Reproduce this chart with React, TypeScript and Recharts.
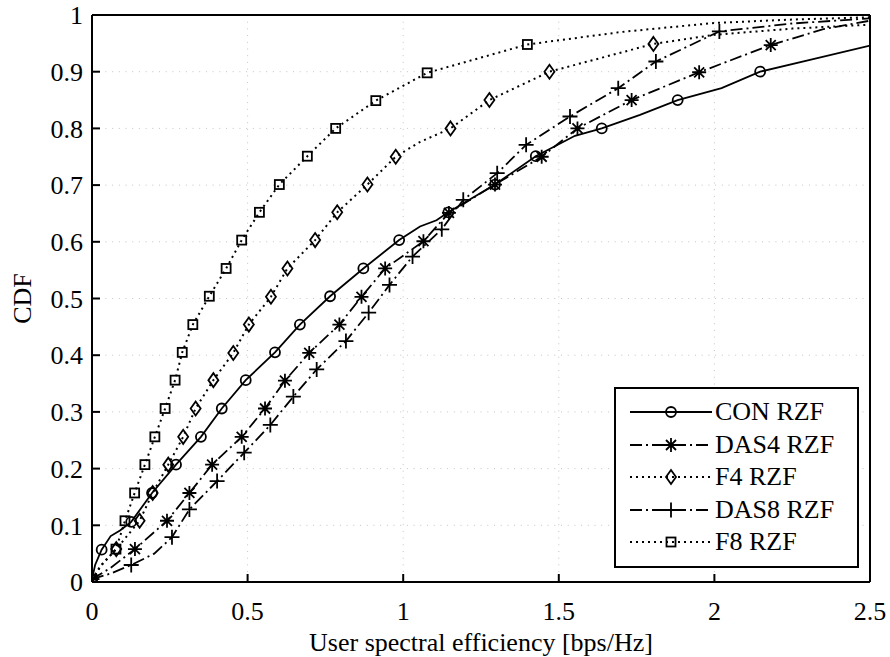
import React from 'react';
import { LineChart, Line, XAxis, YAxis, CartesianGrid, Legend } from 'recharts';

type P = { x: number; y: number; m?: number };

// CDF curves; m = 1 marks the points that carry a marker
const conData: P[] = [
  { x: 0, y: 0.005, m: 1 }, { x: 0.01, y: 0.03 }, { x: 0.031, y: 0.057, m: 1 },
  { x: 0.06, y: 0.081 }, { x: 0.09, y: 0.091 }, { x: 0.126, y: 0.106, m: 1 },
  { x: 0.193, y: 0.157, m: 1 }, { x: 0.27, y: 0.207, m: 1 }, { x: 0.35, y: 0.256, m: 1 },
  { x: 0.417, y: 0.306, m: 1 }, { x: 0.494, y: 0.356, m: 1 }, { x: 0.588, y: 0.405, m: 1 },
  { x: 0.668, y: 0.454, m: 1 }, { x: 0.765, y: 0.504, m: 1 }, { x: 0.872, y: 0.553, m: 1 },
  { x: 0.987, y: 0.603, m: 1 }, { x: 1.054, y: 0.627 }, { x: 1.107, y: 0.638 },
  { x: 1.145, y: 0.652, m: 1 }, { x: 1.295, y: 0.701, m: 1 }, { x: 1.426, y: 0.751, m: 1 },
  { x: 1.552, y: 0.787 }, { x: 1.638, y: 0.8, m: 1 }, { x: 1.761, y: 0.824 },
  { x: 1.882, y: 0.85, m: 1 }, { x: 2.023, y: 0.871 }, { x: 2.147, y: 0.9, m: 1 },
  { x: 2.307, y: 0.921 }, { x: 2.5, y: 0.946 },
];

const das4Data: P[] = [
  { x: 0, y: 0.005, m: 1 }, { x: 0.06, y: 0.025 }, { x: 0.138, y: 0.058, m: 1 },
  { x: 0.241, y: 0.108, m: 1 }, { x: 0.313, y: 0.157, m: 1 }, { x: 0.386, y: 0.207, m: 1 },
  { x: 0.481, y: 0.256, m: 1 }, { x: 0.556, y: 0.306, m: 1 }, { x: 0.62, y: 0.355, m: 1 },
  { x: 0.698, y: 0.404, m: 1 }, { x: 0.795, y: 0.454, m: 1 }, { x: 0.866, y: 0.503, m: 1 },
  { x: 0.942, y: 0.553, m: 1 }, { x: 1.065, y: 0.601, m: 1 }, { x: 1.147, y: 0.651, m: 1 },
  { x: 1.295, y: 0.701, m: 1 }, { x: 1.445, y: 0.75, m: 1 }, { x: 1.56, y: 0.8, m: 1 },
  { x: 1.734, y: 0.85, m: 1 }, { x: 1.951, y: 0.899, m: 1 }, { x: 2.181, y: 0.947, m: 1 },
  { x: 2.35, y: 0.975 }, { x: 2.5, y: 0.99 },
];

const f4Data: P[] = [
  { x: 0, y: 0.004, m: 1 }, { x: 0.03, y: 0.03 }, { x: 0.078, y: 0.058, m: 1 },
  { x: 0.153, y: 0.108, m: 1 }, { x: 0.195, y: 0.157, m: 1 }, { x: 0.245, y: 0.207, m: 1 },
  { x: 0.293, y: 0.256, m: 1 }, { x: 0.333, y: 0.306, m: 1 }, { x: 0.39, y: 0.356, m: 1 },
  { x: 0.454, y: 0.404, m: 1 }, { x: 0.504, y: 0.454, m: 1 }, { x: 0.575, y: 0.503, m: 1 },
  { x: 0.628, y: 0.553, m: 1 }, { x: 0.717, y: 0.603, m: 1 }, { x: 0.788, y: 0.652, m: 1 },
  { x: 0.885, y: 0.701, m: 1 }, { x: 0.976, y: 0.75, m: 1 }, { x: 1.05, y: 0.775 },
  { x: 1.152, y: 0.8, m: 1 }, { x: 1.277, y: 0.85, m: 1 }, { x: 1.47, y: 0.9, m: 1 },
  { x: 1.804, y: 0.949, m: 1 }, { x: 2.0, y: 0.965 }, { x: 2.25, y: 0.976 },
  { x: 2.5, y: 0.983 },
];

const das8Data: P[] = [
  { x: 0, y: 0.005, m: 1 }, { x: 0.06, y: 0.015 }, { x: 0.126, y: 0.03, m: 1 },
  { x: 0.2, y: 0.05 }, { x: 0.257, y: 0.079, m: 1 }, { x: 0.313, y: 0.128, m: 1 },
  { x: 0.402, y: 0.178, m: 1 }, { x: 0.489, y: 0.228, m: 1 }, { x: 0.573, y: 0.277, m: 1 },
  { x: 0.647, y: 0.327, m: 1 }, { x: 0.722, y: 0.375, m: 1 }, { x: 0.816, y: 0.425, m: 1 },
  { x: 0.889, y: 0.475, m: 1 }, { x: 0.956, y: 0.524, m: 1 }, { x: 1.03, y: 0.574, m: 1 },
  { x: 1.124, y: 0.622, m: 1 }, { x: 1.193, y: 0.674, m: 1 }, { x: 1.302, y: 0.721, m: 1 },
  { x: 1.395, y: 0.771, m: 1 }, { x: 1.536, y: 0.821, m: 1 }, { x: 1.691, y: 0.871, m: 1 },
  { x: 1.812, y: 0.918, m: 1 }, { x: 2.016, y: 0.971, m: 1 }, { x: 2.25, y: 0.985 },
  { x: 2.5, y: 0.994 },
];

const f8Data: P[] = [
  { x: 0, y: 0.004, m: 1 }, { x: 0.026, y: 0.027 }, { x: 0.077, y: 0.058, m: 1 },
  { x: 0.106, y: 0.108, m: 1 }, { x: 0.137, y: 0.157, m: 1 }, { x: 0.17, y: 0.207, m: 1 },
  { x: 0.202, y: 0.256, m: 1 }, { x: 0.235, y: 0.306, m: 1 }, { x: 0.267, y: 0.356, m: 1 },
  { x: 0.29, y: 0.405, m: 1 }, { x: 0.324, y: 0.454, m: 1 }, { x: 0.377, y: 0.504, m: 1 },
  { x: 0.431, y: 0.553, m: 1 }, { x: 0.481, y: 0.603, m: 1 }, { x: 0.538, y: 0.652, m: 1 },
  { x: 0.602, y: 0.701, m: 1 }, { x: 0.692, y: 0.751, m: 1 }, { x: 0.783, y: 0.8, m: 1 },
  { x: 0.912, y: 0.849, m: 1 }, { x: 1.077, y: 0.898, m: 1 }, { x: 1.399, y: 0.948, m: 1 },
  { x: 1.7, y: 0.97 }, { x: 2.0, y: 0.986 }, { x: 2.25, y: 0.992 }, { x: 2.5, y: 0.996 },
];

const xTicks = [0, 0.5, 1, 1.5, 2, 2.5];
const yTicks = [0, 0.1, 0.2, 0.3, 0.4, 0.5, 0.6, 0.7, 0.8, 0.9, 1];
const seriesNames = ['CON RZF', 'DAS4 RZF', 'F4 RZF', 'DAS8 RZF', 'F8 RZF'];
const xTitle = 'User spectral efficiency [bps/Hz]';
const yTitle = 'CDF';

const FONT = '"Liberation Serif", "Times New Roman", serif';
const DASHDOT = '12 4 2 4';
const DOTTED = '2 4';

type Kind = 'circle' | 'star' | 'diamond' | 'plus' | 'square';

const series: { name: string; data: P[]; dash?: string; marker: Kind }[] = [
  { name: seriesNames[0], data: conData, dash: undefined, marker: 'circle' },
  { name: seriesNames[1], data: das4Data, dash: DASHDOT, marker: 'star' },
  { name: seriesNames[2], data: f4Data, dash: DOTTED, marker: 'diamond' },
  { name: seriesNames[3], data: das8Data, dash: DASHDOT, marker: 'plus' },
  { name: seriesNames[4], data: f8Data, dash: DOTTED, marker: 'square' },
];

function Marker({ kind, cx, cy }: { kind: Kind; cx: number; cy: number }) {
  const s = { stroke: '#000', strokeWidth: 1.8, fill: 'none' };
  if (kind === 'circle') return <circle cx={cx} cy={cy} r={5} {...s} />;
  if (kind === 'diamond')
    return <path d={`M${cx},${cy - 7}L${cx + 5},${cy}L${cx},${cy + 7}L${cx - 5},${cy}Z`} {...s} />;
  if (kind === 'square') return <rect x={cx - 4.5} y={cy - 4.5} width={9} height={9} {...s} />;
  if (kind === 'plus')
    return <path d={`M${cx - 7.5},${cy}H${cx + 7.5}M${cx},${cy - 7.5}V${cy + 7.5}`} {...s} />;
  const d = 7;
  const e = 5;
  return (
    <path
      d={`M${cx - d},${cy}H${cx + d}M${cx},${cy - d}V${cy + d}M${cx - e},${cy - e}L${cx + e},${cy + e}M${cx - e},${cy + e}L${cx + e},${cy - e}`}
      {...s}
    />
  );
}

const makeDot = (kind: Kind) => (props: any) => {
  const { cx, cy, payload, index } = props;
  if (!payload || !payload.m || cx == null || cy == null) return <g key={`d${index}`} />;
  return (
    <g key={`d${index}`}>
      <Marker kind={kind} cx={cx} cy={cy} />
    </g>
  );
};

const renderLegend = () => (
  <div
    style={{
      border: '2px solid #000',
      background: '#fff',
      padding: '7px 0',
      boxSizing: 'border-box',
      width: 245,
    }}
  >
    {series.map((s) => (
      <div key={s.name} style={{ display: 'flex', alignItems: 'center', height: 32.5 }}>
        <svg width={97} height={32} style={{ display: 'block', flex: 'none' }}>
          <line x1={14} x2={96} y1={16} y2={16} stroke="#000" strokeWidth={2} strokeDasharray={s.dash} />
          <Marker kind={s.marker} cx={55} cy={16} />
        </svg>
        <span
          style={{
            fontFamily: FONT,
            fontSize: 26,
            lineHeight: '32px',
            marginLeft: 2,
            color: '#000',
            whiteSpace: 'nowrap',
          }}
        >
          {s.name}
        </span>
      </div>
    ))}
  </div>
);

const axisStroke = { stroke: '#000', strokeWidth: 2 };
const tickStyle = { fill: '#000', fontSize: 26, fontFamily: FONT, style: { fontFamily: FONT } };

export default function App() {
  return (
    <div
      style={{
        position: 'absolute',
        left: 0,
        top: 0,
        width: 890,
        height: 657,
        background: '#fff',
        fontFamily: FONT,
      }}
    >
      <LineChart
        width={890}
        height={657}
        margin={{ top: 14, right: 19, bottom: 0, left: 0 }}
        style={{ fontFamily: FONT }}
      >
        <CartesianGrid stroke="#c4c4c4" strokeWidth={1} strokeDasharray="1 5.7" />
        <XAxis
          type="number"
          dataKey="x"
          domain={[0, 2.5]}
          allowDataOverflow
          ticks={xTicks}
          interval={0}
          height={75}
          tickSize={-8}
          tickMargin={27.5}
          axisLine={axisStroke}
          tickLine={axisStroke}
          tick={tickStyle}
          label={{
            value: xTitle,
            position: 'insideBottom',
            offset: 6,
            fill: '#000',
            fontSize: 26,
            fontFamily: FONT,
            style: { fontFamily: FONT },
          }}
        />
        <XAxis
          xAxisId="top"
          orientation="top"
          type="number"
          domain={[0, 2.5]}
          allowDataOverflow
          ticks={xTicks}
          interval={0}
          height={1}
          tick={false}
          tickSize={-8}
          axisLine={axisStroke}
          tickLine={axisStroke}
        />
        <YAxis
          type="number"
          domain={[0, 1]}
          allowDataOverflow
          ticks={yTicks}
          interval={0}
          width={92}
          tickSize={-8}
          tickMargin={17}
          axisLine={axisStroke}
          tickLine={axisStroke}
          tick={tickStyle}
          label={{
            value: yTitle,
            angle: -90,
            position: 'insideLeft',
            offset: 22,
            fill: '#000',
            fontSize: 26,
            fontFamily: FONT,
            style: { textAnchor: 'middle', fontFamily: FONT },
          }}
        />
        <YAxis
          yAxisId="right"
          orientation="right"
          type="number"
          domain={[0, 1]}
          allowDataOverflow
          ticks={yTicks}
          interval={0}
          width={1}
          tick={false}
          tickSize={-8}
          axisLine={axisStroke}
          tickLine={axisStroke}
        />
        {series.map((s) => (
          <Line
            key={s.name}
            name={s.name}
            data={s.data}
            dataKey="y"
            type="linear"
            stroke="#000"
            strokeWidth={s.dash === DOTTED ? 2 : 1.8}
            strokeDasharray={s.dash}
            dot={makeDot(s.marker)}
            activeDot={false}
            isAnimationActive={false}
          />
        ))}
        <Legend
          content={renderLegend}
          layout="horizontal"
          verticalAlign="middle"
          align="center"
          wrapperStyle={{ position: 'absolute', left: 614, top: 387, width: 245, height: 'auto', margin: 0, padding: 0 }}
        />
      </LineChart>
    </div>
  );
}
